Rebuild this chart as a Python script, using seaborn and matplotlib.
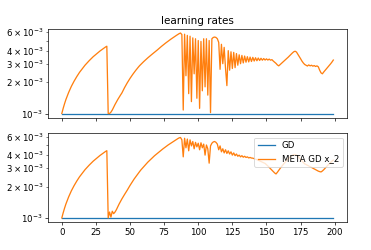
import numpy as np
import matplotlib
matplotlib.use("Agg")
import matplotlib.pyplot as plt
import seaborn as sns

# learning rate values, in units of 1e-3
steps = list(range(200))
gd_lr = [1.0] * 200

ramp_1 = [1.00, 1.12, 1.24, 1.36, 1.47, 1.59, 1.70, 1.82, 1.93, 2.04,
          2.15, 2.26, 2.37, 2.48, 2.58, 2.69, 2.79, 2.90, 3.00, 3.10,
          3.20, 3.30, 3.40, 3.50, 3.59, 3.69, 3.78, 3.88, 3.97, 4.06,
          4.15, 4.24, 4.33, 4.41]

meta_top = ramp_1 + [
    1.00, 1.00, 1.03, 1.08, 1.15, 1.22, 1.29, 1.36, 1.43, 1.50,   # 34-43
    1.57, 1.67, 1.77, 1.87, 1.97, 2.07, 2.17, 2.27, 2.37, 2.47,   # 44-53
    2.57, 2.67, 2.77, 2.87, 2.96, 3.05, 3.14, 3.23, 3.32, 3.41,   # 54-63
    3.50, 3.59, 3.68, 3.77, 3.86, 3.95, 4.06, 4.17, 4.28, 4.39,   # 64-73
    4.50, 4.61, 4.72, 4.83, 4.94, 5.05, 5.16, 5.27, 5.38, 5.49,   # 74-83
    5.60, 5.71, 5.82, 5.90, 5.70, 1.08, 5.75, 2.30, 5.60, 1.55,   # 84-93
    5.50, 1.30, 5.30, 2.40, 5.20, 1.40, 5.00, 1.12, 4.90, 1.65,   # 94-103
    5.20, 1.80, 5.20, 1.50, 5.00, 1.02, 5.20, 5.35, 5.40, 5.35,   # 104-113
    5.20, 4.80, 2.65, 4.60, 3.00, 4.30, 2.70, 1.85, 4.00, 2.60,   # 114-123
    3.90, 2.70, 3.85, 2.75, 3.75, 2.90, 3.65, 3.00, 3.60, 3.05,   # 124-133
    3.55, 3.10, 3.50, 3.12, 3.47, 3.15, 3.45, 3.18, 3.42, 3.20,   # 134-143
    3.40, 3.22, 3.38, 3.24, 3.36, 3.25, 3.34, 3.25, 3.32, 3.24,   # 144-153
    3.28, 3.18, 3.10, 3.02, 2.92, 2.86, 2.94, 3.02, 3.10, 3.19,   # 154-163
    3.28, 3.37, 3.47, 3.58, 3.69, 3.80, 3.90, 3.95, 3.88, 3.70,   # 164-173
    3.52, 3.35, 3.18, 3.05, 2.95, 2.90, 2.85, 2.92, 2.86, 2.90,   # 174-183
    2.84, 2.88, 2.82, 2.86, 2.80, 2.60, 2.45, 2.40, 2.50, 2.59,   # 184-193
    2.68, 2.78, 2.88, 2.99, 3.11, 3.25]                           # 194-199

meta_bottom = ramp_1 + [
    1.00, 1.14, 1.02, 1.16, 1.10, 1.14, 1.20, 1.28, 1.36, 1.44,   # 34-43
    1.52, 1.60, 1.68, 1.76, 1.85, 1.95, 2.05, 2.15, 2.25, 2.36,   # 44-53
    2.46, 2.57, 2.67, 2.78, 2.89, 2.99, 3.10, 3.20, 3.31, 3.42,   # 54-63
    3.52, 3.63, 3.73, 3.84, 3.95, 4.05, 4.16, 4.26, 4.37, 4.48,   # 64-73
    4.58, 4.69, 4.79, 4.90, 5.01, 5.11, 5.22, 5.32, 5.43, 5.54,   # 74-83
    5.64, 5.75, 5.85, 5.90, 5.60, 3.85, 5.80, 4.70, 5.70, 4.40,   # 84-93
    5.60, 4.90, 5.40, 4.60, 5.30, 4.80, 5.20, 4.50, 5.25, 4.70,   # 94-103
    5.10, 4.00, 5.00, 4.60, 3.35, 4.90, 5.20, 5.35, 5.40, 5.30,   # 104-113
    5.10, 4.50, 4.90, 4.30, 4.60, 4.20, 4.50, 4.15, 4.40, 4.10,   # 114-123
    4.30, 4.00, 4.20, 3.95, 4.10, 3.90, 4.00, 3.85, 3.95, 3.82,   # 124-133
    3.90, 3.80, 3.85, 3.76, 3.80, 3.75, 3.74, 3.70, 3.66, 3.62,   # 134-143
    3.57, 3.52, 3.47, 3.42, 3.38, 3.33, 3.24, 3.15, 3.05, 2.96,   # 144-153
    2.87, 2.78, 2.70, 2.64, 2.74, 2.86, 2.98, 3.10, 3.22, 3.34,   # 154-163
    3.46, 3.58, 3.70, 3.80, 3.90, 3.98, 4.04, 4.05, 4.00, 3.90,   # 164-173
    3.78, 3.65, 3.52, 3.40, 3.30, 3.25, 3.20, 3.15, 3.10, 3.05,   # 174-183
    3.00, 2.95, 2.90, 2.85, 2.81, 2.78, 2.76, 2.82, 2.90, 3.00,   # 184-193
    3.10, 3.20, 3.30, 3.40, 3.50, 3.58]                           # 194-199

unit = 1e-3
dpi = 62

fig, axes = plt.subplots(2, 1, sharex=True, figsize=(371 / dpi, 250 / dpi), dpi=dpi)
plt.subplots_adjust(left=0.13, right=0.935, top=0.884, bottom=0.112, hspace=0.18)

panels = [meta_top, meta_bottom]
for ax, meta in zip(axes, panels):
    sns.lineplot(x=steps, y=np.array(gd_lr) * unit, ax=ax, color="#1f77b4", label="GD")
    sns.lineplot(x=steps, y=np.array(meta) * unit, ax=ax, color="#ff7f0e", label="META GD x_2")
    ax.set_yscale("log")
    ax.set_xlabel("")
    ax.set_ylabel("")

axes[0].set_title("learning rates")
if axes[0].get_legend() is not None:
    axes[0].get_legend().remove()
axes[1].legend(loc="upper right")

plt.savefig("out.png", dpi=dpi)
